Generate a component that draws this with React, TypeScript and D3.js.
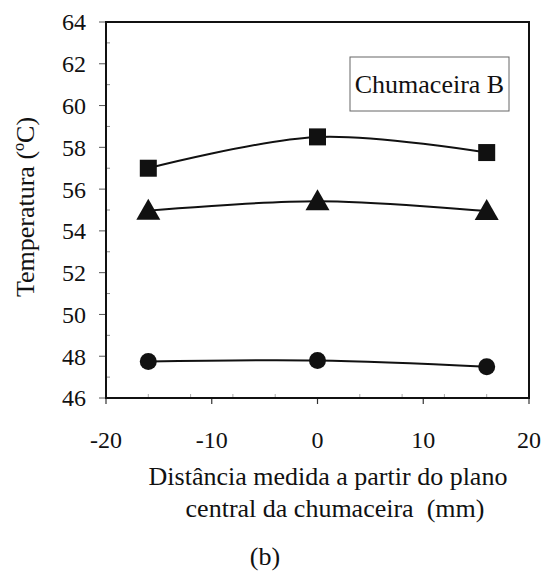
import React from "react";
import * as d3 from "d3";

const positions = [-16, 0, 16];
const squareSeries = [57.0, 58.5, 57.75];
const triangleSeries = [54.97, 55.42, 54.95];
const circleSeries = [47.75, 47.8, 47.5];
const xTicks = [-20, -10, 0, 10, 20];
const yTicks = [46, 48, 50, 52, 54, 56, 58, 60, 62, 64];
const yMinorTicks = [47, 49, 51, 53, 55, 57, 59, 61, 63];
const xMinorTicks = [-16, -12, -8, -4, 4, 8, 12, 16];
const legendLabel = "Chumaceira B";
const yTitle = "Temperatura (ºC)";
const xTitle1 = "Distância medida a partir do plano";
const xTitle2 = "central da chumaceira \u00a0(mm)";
const caption = "(b)";

const W = 545;
const H = 574;
const L = 106, R = 529, T = 22, B = 398;
const FONT = "Liberation Serif";

export default function App() {
  const x = d3.scaleLinear().domain([-20, 20]).range([L, R]);
  const y = d3.scaleLinear().domain([46, 64]).range([B, T]);
  const line = d3
    .line<[number, number]>()
    .x((d) => x(d[0]))
    .y((d) => y(d[1]))
    .curve(d3.curveCatmullRom.alpha(0));
  const mk = (vals: number[]) => positions.map((p, i) => [p, vals[i]] as [number, number]);

  const triPath = (cx: number, cy: number) => {
    const s = 11;
    return `M${cx},${cy - s - 1}L${cx + s + 1},${cy + s - 2}L${cx - s - 1},${cy + s - 2}Z`;
  };

  return (
    <div style={{ position: "fixed", left: 0, top: 0, background: "#fff" }}>
      <svg width={W} height={H} style={{ display: "block", fontFamily: FONT }}>
        <rect x={0} y={0} width={W} height={H} fill="#fff" />
        {yMinorTicks.map((t) => (
          <line key={"ym" + t} x1={L} x2={L + 4} y1={y(t)} y2={y(t)} stroke="#888" strokeWidth={1} />
        ))}
        {xMinorTicks.map((t) => (
          <line key={"xm" + t} x1={x(t)} x2={x(t)} y1={B} y2={B - 4} stroke="#aaa" strokeWidth={1} />
        ))}
        {yTicks.map((t) => (
          <g key={"y" + t}>
            <line x1={L - 7} x2={L} y1={y(t)} y2={y(t)} stroke="#555" strokeWidth={1} />
            <text x={86} y={y(t)} dy="0.35em" textAnchor="end" fontFamily={FONT} fontSize={24} fill="#111">
              {t}
            </text>
          </g>
        ))}
        {xTicks.map((t) => (
          <g key={"x" + t}>
            <line x1={x(t)} x2={x(t)} y1={B} y2={B + 6} stroke="#333" strokeWidth={1.2} />
            <text x={x(t)} y={440} dy="0.35em" textAnchor="middle" fontFamily={FONT} fontSize={24} fill="#111">
              {t}
            </text>
          </g>
        ))}
        <rect x={L} y={T} width={R - L} height={B - T} fill="none" stroke="#111" strokeWidth={2} />
        {[squareSeries, triangleSeries, circleSeries].map((s, i) => (
          <path key={"l" + i} d={line(mk(s)) || ""} fill="none" stroke="#111" strokeWidth={2} />
        ))}
        {mk(squareSeries).map((d, i) => (
          <rect key={"s" + i} x={x(d[0]) - 8.5} y={y(d[1]) - 8.5} width={17} height={17} fill="#111" />
        ))}
        {mk(triangleSeries).map((d, i) => (
          <path key={"t" + i} d={triPath(x(d[0]), y(d[1]))} fill="#111" />
        ))}
        {mk(circleSeries).map((d, i) => (
          <circle key={"c" + i} cx={x(d[0])} cy={y(d[1])} r={8.5} fill="#111" />
        ))}
        <rect x={350} y={57} width={159} height={54} fill="#fff" stroke="#666" strokeWidth={1} />
        <text x={429.5} y={84} dy="0.35em" textAnchor="middle" fontFamily={FONT} fontSize={26} fill="#111">
          {legendLabel}
        </text>
        <text
          transform={`translate(25,${207}) rotate(-90)`}
          textAnchor="middle"
          dy="0.35em"
          fontFamily={FONT}
          fontSize={26}
          fill="#111"
        >
          {yTitle}
        </text>
        <text x={328} y={485} textAnchor="middle" fontFamily={FONT} fontSize={26} fill="#111">
          {xTitle1}
        </text>
        <text x={335} y={517} textAnchor="middle" fontFamily={FONT} fontSize={26} fill="#111">
          {xTitle2}
        </text>
        <text x={265} y={565} textAnchor="middle" fontFamily={FONT} fontSize={26} fill="#111">
          {caption}
        </text>
      </svg>
    </div>
  );
}
